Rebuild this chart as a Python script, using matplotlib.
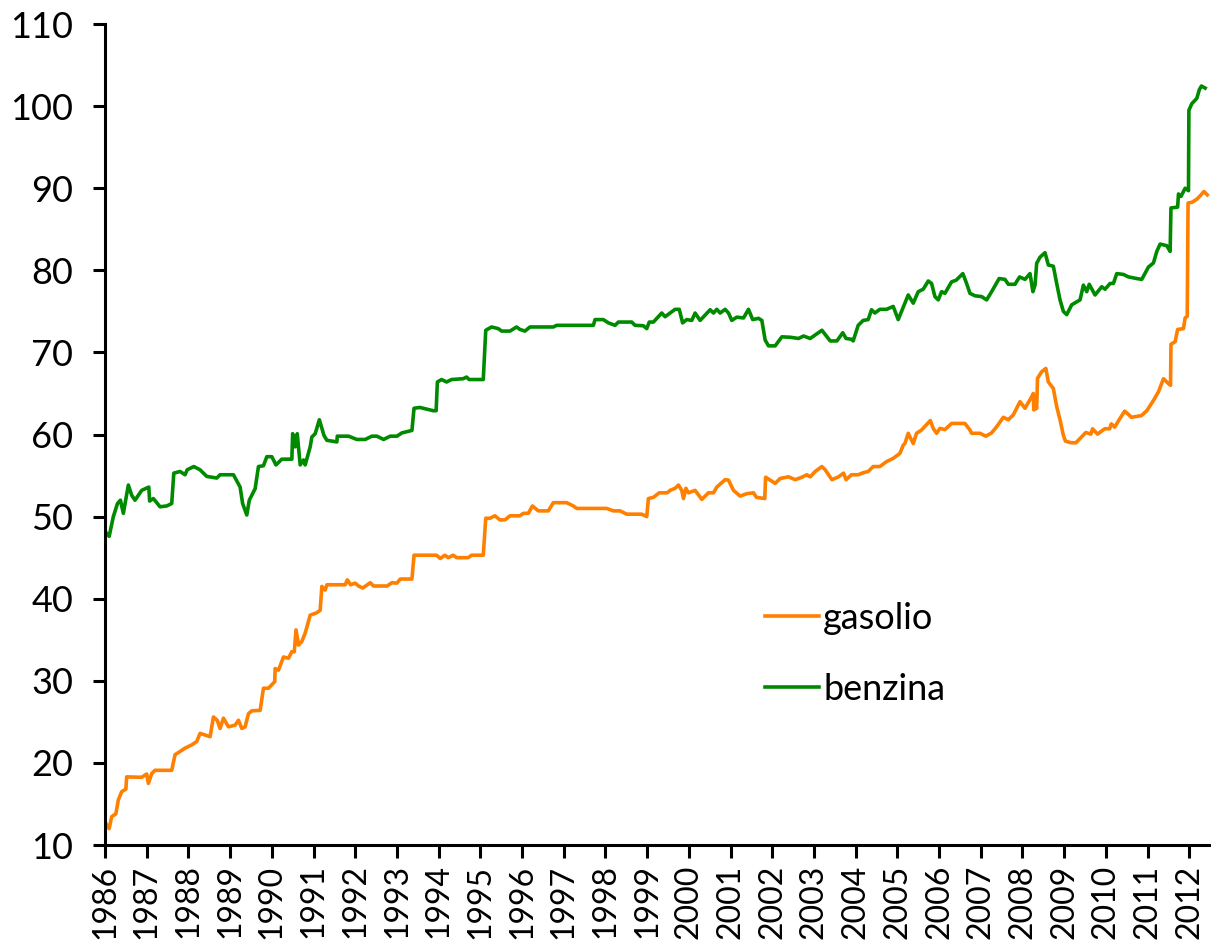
import matplotlib
matplotlib.use("Agg")
import matplotlib.pyplot as plt

plt.rcParams['font.family'] = ['Lato', 'DejaVu Sans']

years = list(range(1986, 2013))
y_ticks = list(range(10, 111, 10))

benz_t = [1986.00, 1986.10, 1986.20, 1986.30, 1986.37, 1986.44, 1986.56, 1986.64, 1986.72, 1986.88,
          1987.05, 1987.07, 1987.16, 1987.32, 1987.48, 1987.60, 1987.65, 1987.80, 1987.92, 1987.97,
          1988.13, 1988.28, 1988.44, 1988.68, 1988.76, 1989.08, 1989.24, 1989.30, 1989.40, 1989.46,
          1989.60, 1989.68, 1989.80, 1989.88, 1990.00, 1990.10, 1990.24, 1990.48, 1990.50, 1990.56,
          1990.61, 1990.68, 1990.76, 1990.80, 1990.92, 1990.96, 1991.04, 1991.14, 1991.25, 1991.32,
          1991.56, 1991.57, 1991.84, 1992.04, 1992.24, 1992.40, 1992.52, 1992.68, 1992.84, 1993.00,
          1993.12, 1993.36, 1993.41, 1993.55, 1993.71, 1993.87, 1993.94, 1993.97, 1994.07, 1994.19,
          1994.31, 1994.59, 1994.67, 1994.73, 1995.07, 1995.13, 1995.27, 1995.43, 1995.51, 1995.71,
          1995.87, 1995.95, 1996.07, 1996.19, 1996.75, 1996.83, 1997.71, 1997.75, 1997.95, 1998.07,
          1998.23, 1998.31, 1998.63, 1998.71, 1998.91, 1998.99, 1999.05, 1999.15, 1999.27, 1999.35,
          1999.43, 1999.55, 1999.67, 1999.77, 1999.85, 1999.95, 2000.07, 2000.15, 2000.27, 2000.39,
          2000.51, 2000.59, 2000.67, 2000.75, 2000.87, 2000.95, 2001.03, 2001.15, 2001.31, 2001.43,
          2001.53, 2001.67, 2001.75, 2001.83, 2001.91, 2002.07, 2002.23, 2002.43, 2002.63, 2002.75,
          2002.91, 2003.19, 2003.39, 2003.55, 2003.69, 2003.77, 2003.90, 2003.94, 2004.06, 2004.18,
          2004.30, 2004.38, 2004.46, 2004.58, 2004.74, 2004.90, 2005.02, 2005.14, 2005.26, 2005.38,
          2005.50, 2005.62, 2005.74, 2005.82, 2005.90, 2005.98, 2006.06, 2006.14, 2006.30, 2006.41,
          2006.57, 2006.66, 2006.74, 2006.86, 2007.02, 2007.14, 2007.26, 2007.44, 2007.58, 2007.66,
          2007.82, 2007.93, 2008.06, 2008.18, 2008.25, 2008.30, 2008.34, 2008.42, 2008.54, 2008.62,
          2008.74, 2008.82, 2008.90, 2008.98, 2009.06, 2009.18, 2009.38, 2009.46, 2009.54, 2009.60,
          2009.74, 2009.90, 2009.98, 2010.10, 2010.18, 2010.26, 2010.42, 2010.54, 2010.74, 2010.86,
          2011.02, 2011.14, 2011.22, 2011.30, 2011.46, 2011.54, 2011.56, 2011.72, 2011.74, 2011.80,
          2011.90, 2011.98, 2011.99, 2012.06, 2012.18, 2012.24, 2012.29, 2012.38]
benz_v = [48.2, 47.6, 50.0, 51.6, 52.0, 50.4, 53.85, 52.6, 52.0, 53.2,
          53.6, 51.9, 52.2, 51.2, 51.3, 51.6, 55.3, 55.5, 55.1, 55.7,
          56.1, 55.7, 54.9, 54.7, 55.1, 55.1, 53.6, 51.6, 50.2, 52.0,
          53.4, 56.1, 56.2, 57.3, 57.3, 56.3, 57.0, 57.0, 60.1, 58.5,
          60.1, 56.3, 56.9, 56.3, 58.5, 59.7, 60.1, 61.8, 59.9, 59.3,
          59.1, 59.8, 59.8, 59.4, 59.4, 59.8, 59.8, 59.4, 59.8, 59.8,
          60.2, 60.5, 63.2, 63.3, 63.1, 62.9, 62.9, 66.4, 66.7, 66.4,
          66.7, 66.8, 67.0, 66.7, 66.7, 72.7, 73.1, 72.9, 72.6, 72.6,
          73.1, 72.8, 72.6, 73.1, 73.1, 73.3, 73.3, 74.0, 74.0, 73.6,
          73.3, 73.7, 73.7, 73.3, 73.25, 72.9, 73.7, 73.7, 74.35, 74.8,
          74.35, 74.8, 75.25, 75.25, 73.6, 74.0, 73.9, 74.8, 73.9, 74.55,
          75.2, 74.8, 75.25, 74.8, 75.25, 74.8, 73.9, 74.3, 74.2, 75.25,
          74.0, 74.15, 73.9, 71.5, 70.8, 70.8, 71.9, 71.85, 71.7, 72.0,
          71.7, 72.7, 71.4, 71.4, 72.4, 71.7, 71.6, 71.4, 73.3, 73.9,
          74.0, 75.2, 74.8, 75.25, 75.25, 75.6, 74.0, 75.5, 77.0, 76.0,
          77.4, 77.7, 78.7, 78.4, 76.8, 76.4, 77.4, 77.2, 78.6, 78.8,
          79.6, 78.4, 77.2, 76.9, 76.8, 76.4, 77.4, 79.0, 78.9, 78.3,
          78.3, 79.2, 78.9, 79.6, 77.4, 78.2, 80.85, 81.6, 82.15, 80.65,
          80.5, 78.4, 76.4, 75.0, 74.6, 75.8, 76.4, 78.2, 77.4, 78.3,
          77.0, 78.0, 77.7, 78.4, 78.4, 79.6, 79.5, 79.2, 79.0, 78.9,
          80.4, 80.9, 82.3, 83.2, 83.0, 82.3, 87.6, 87.7, 89.3, 89.0,
          90.0, 89.7, 99.5, 100.3, 100.95, 102.0, 102.45, 102.2]

gas_t = [1986.00, 1986.10, 1986.16, 1986.26, 1986.32, 1986.40, 1986.50, 1986.52, 1986.88, 1987.00,
         1987.04, 1987.12, 1987.20, 1987.60, 1987.68, 1987.80, 1987.92, 1988.08, 1988.20, 1988.28,
         1988.52, 1988.60, 1988.69, 1988.76, 1988.84, 1988.96, 1989.12, 1989.20, 1989.28, 1989.36,
         1989.44, 1989.52, 1989.72, 1989.80, 1989.92, 1990.07, 1990.08, 1990.16, 1990.28, 1990.40,
         1990.48, 1990.54, 1990.58, 1990.64, 1990.72, 1990.80, 1990.92, 1991.08, 1991.16, 1991.20,
         1991.28, 1991.32, 1991.76, 1991.81, 1991.89, 1992.00, 1992.08, 1992.18, 1992.36, 1992.44,
         1992.76, 1992.88, 1993.00, 1993.08, 1993.36, 1993.41, 1993.95, 1994.04, 1994.15, 1994.23,
         1994.35, 1994.43, 1994.71, 1994.79, 1995.07, 1995.13, 1995.23, 1995.35, 1995.47, 1995.59,
         1995.71, 1995.95, 1996.03, 1996.15, 1996.25, 1996.39, 1996.63, 1996.75, 1997.07, 1997.23,
         1997.31, 1998.03, 1998.19, 1998.35, 1998.51, 1998.87, 1998.99, 1999.03, 1999.15, 1999.29,
         1999.48, 1999.55, 1999.67, 1999.75, 1999.83, 1999.87, 1999.93, 1999.99, 2000.15, 2000.31,
         2000.47, 2000.59, 2000.67, 2000.87, 2000.95, 2001.07, 2001.23, 2001.39, 2001.55, 2001.62,
         2001.82, 2001.84, 2001.95, 2002.07, 2002.19, 2002.39, 2002.55, 2002.71, 2002.83, 2002.91,
         2003.03, 2003.19, 2003.27, 2003.43, 2003.59, 2003.71, 2003.77, 2003.90, 2004.06, 2004.18,
         2004.30, 2004.42, 2004.58, 2004.74, 2004.90, 2005.06, 2005.14, 2005.18, 2005.26, 2005.38,
         2005.46, 2005.58, 2005.69, 2005.79, 2005.86, 2005.94, 2006.02, 2006.14, 2006.30, 2006.62,
         2006.74, 2006.78, 2006.98, 2007.12, 2007.26, 2007.38, 2007.54, 2007.66, 2007.78, 2007.94,
         2008.06, 2008.22, 2008.26, 2008.27, 2008.34, 2008.36, 2008.46, 2008.56, 2008.62, 2008.74,
         2008.82, 2008.90, 2008.98, 2009.03, 2009.16, 2009.28, 2009.52, 2009.64, 2009.68, 2009.80,
         2009.97, 2010.09, 2010.13, 2010.21, 2010.33, 2010.45, 2010.53, 2010.61, 2010.85, 2010.98,
         2011.14, 2011.26, 2011.38, 2011.50, 2011.55, 2011.56, 2011.66, 2011.72, 2011.86, 2011.90,
         2011.95, 2011.97, 2012.07, 2012.19, 2012.30, 2012.35, 2012.43]
gas_v = [12.8, 12.0, 13.45, 13.8, 15.5, 16.5, 16.8, 18.3, 18.25, 18.65,
         17.5, 18.7, 19.1, 19.1, 21.0, 21.4, 21.8, 22.2, 22.6, 23.6,
         23.2, 25.6, 25.2, 24.2, 25.45, 24.4, 24.6, 25.2, 24.2, 24.4,
         26.0, 26.35, 26.4, 29.1, 29.1, 29.9, 31.5, 31.3, 32.9, 32.75,
         33.55, 33.55, 36.2, 34.35, 34.8, 35.8, 38.0, 38.3, 38.6, 41.5,
         41.05, 41.7, 41.7, 42.3, 41.7, 41.9, 41.55, 41.3, 41.95, 41.55,
         41.55, 41.95, 41.9, 42.4, 42.4, 45.3, 45.3, 44.9, 45.3, 45.0,
         45.3, 45.0, 45.0, 45.3, 45.3, 49.8, 49.8, 50.1, 49.6, 49.6,
         50.1, 50.1, 50.4, 50.4, 51.3, 50.7, 50.7, 51.7, 51.7, 51.3,
         51.0, 51.0, 50.7, 50.7, 50.3, 50.3, 50.0, 52.2, 52.35, 52.9,
         52.9, 53.2, 53.45, 53.85, 53.2, 52.2, 53.45, 52.9, 53.2, 52.1,
         52.9, 52.9, 53.6, 54.5, 54.45, 53.2, 52.5, 52.8, 52.9, 52.35,
         52.2, 54.8, 54.45, 54.05, 54.65, 54.85, 54.5, 54.8, 55.1, 54.85,
         55.5, 56.1, 55.7, 54.5, 54.85, 55.3, 54.5, 55.1, 55.1, 55.35,
         55.5, 56.1, 56.1, 56.7, 57.1, 57.7, 58.7, 58.9, 60.15, 58.9,
         60.15, 60.55, 61.15, 61.7, 60.75, 60.15, 60.75, 60.6, 61.35, 61.35,
         60.55, 60.15, 60.15, 59.8, 60.2, 60.95, 62.1, 61.8, 62.4, 64.0,
         63.2, 64.6, 65.0, 63.0, 63.2, 66.85, 67.65, 68.05, 66.4, 65.6,
         63.4, 61.8, 59.9, 59.2, 59.0, 59.0, 60.25, 60.05, 60.7, 60.05,
         60.7, 60.7, 61.3, 60.9, 61.9, 62.85, 62.5, 62.1, 62.3, 62.9,
         64.15, 65.2, 66.8, 66.2, 66.0, 71.0, 71.3, 72.8, 72.9, 74.2,
         74.4, 88.2, 88.3, 88.7, 89.3, 89.6, 89.2]

fig = plt.figure(figsize=(12.11, 9.5), dpi=100)
ax = fig.add_axes([0.0867, 0.1105, 0.9133, 0.8642])

ax.plot(gas_t, gas_v, color='#ff7f00', lw=2.6, label='gasolio', solid_joinstyle='round')
ax.plot(benz_t, benz_v, color='#008a00', lw=2.6, label='benzina', solid_joinstyle='round')

ax.set_xlim(1986, 2012.52)
ax.set_ylim(10, 110)
ax.set_yticks(y_ticks)
ax.set_xticks(years)
ax.set_xticklabels([str(y) for y in years], rotation=90)

for s in ['top', 'right']:
    ax.spines[s].set_visible(False)
for s in ['left', 'bottom']:
    ax.spines[s].set_linewidth(2.2)
ax.tick_params(axis='both', direction='out', length=9, width=2.2)
ax.tick_params(axis='y', pad=14, labelsize=26)
ax.tick_params(axis='x', pad=5, labelsize=23)

leg = ax.legend(loc='upper left', bbox_to_anchor=(0.597, 0.296), frameon=False,
                fontsize=26, handlelength=1.5, handletextpad=0.1, labelspacing=1.05,
                borderpad=0, borderaxespad=0)

fig.savefig('out.png', dpi=100)
